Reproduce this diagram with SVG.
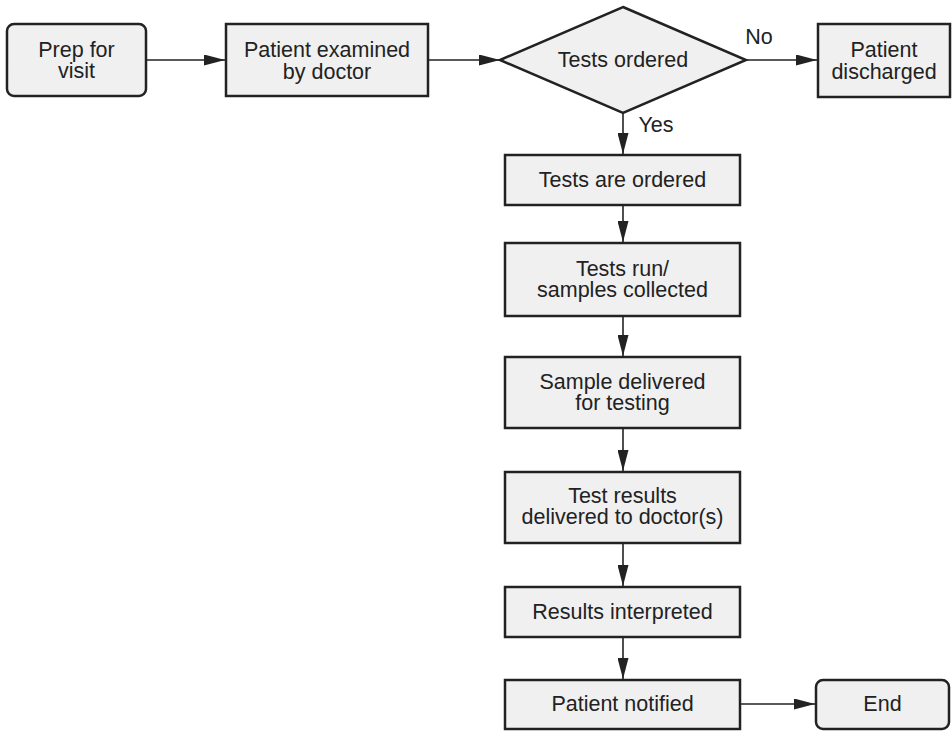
<svg xmlns="http://www.w3.org/2000/svg" width="952" height="731" viewBox="0 0 952 731">
  <style>
    .box { fill: #f0f0f0; stroke: #222; stroke-width: 2.5; }
    .lbl { font-family: "Liberation Sans", Arial, Helvetica, sans-serif; font-size: 21.5px; fill: #222; text-anchor: middle; }
    .edge { stroke: #222; stroke-width: 1.6; fill: none; }
  </style>
  <defs>
    <marker id="arrow" viewBox="0 0 21 11" refX="21" refY="5.5" markerWidth="21" markerHeight="11" markerUnits="userSpaceOnUse" orient="auto">
      <path d="M0,0 L21,5.5 L0,11 Z" fill="#222"/>
    </marker>
  </defs>
  <rect width="952" height="731" fill="#fff"/>

  <g id="connectors">
    <line class="edge" x1="146" y1="60" x2="225" y2="60" marker-end="url(#arrow)"/>
    <line class="edge" x1="428" y1="60" x2="500" y2="60" marker-end="url(#arrow)"/>
    <line class="edge" x1="746" y1="60" x2="817" y2="60" marker-end="url(#arrow)"/>
    <line class="edge" x1="623" y1="113" x2="623" y2="154" marker-end="url(#arrow)"/>
    <line class="edge" x1="623" y1="205" x2="623" y2="242" marker-end="url(#arrow)"/>
    <line class="edge" x1="623" y1="316" x2="623" y2="356" marker-end="url(#arrow)"/>
    <line class="edge" x1="623" y1="428" x2="623" y2="471" marker-end="url(#arrow)"/>
    <line class="edge" x1="623" y1="543" x2="623" y2="586" marker-end="url(#arrow)"/>
    <line class="edge" x1="623" y1="637" x2="623" y2="679" marker-end="url(#arrow)"/>
    <line class="edge" x1="740" y1="704" x2="815" y2="704" marker-end="url(#arrow)"/>
    <text class="lbl" x="759" y="44">No</text>
    <text class="lbl" x="656" y="132">Yes</text>
  </g>

  <g id="prep">
    <rect class="box" x="7" y="24" width="139" height="72" rx="7"/>
    <text class="lbl" x="76.5" y="56.5">Prep for</text>
    <text class="lbl" x="76.5" y="77.5">visit</text>
  </g>
  <g id="examined">
    <rect class="box" x="226" y="24" width="202" height="72"/>
    <text class="lbl" x="327" y="56.5">Patient examined</text>
    <text class="lbl" x="327" y="78.5">by doctor</text>
  </g>
  <g id="decision">
    <polygon class="box" points="623,7 746,60 623,113 500,60"/>
    <text class="lbl" x="623" y="67">Tests ordered</text>
  </g>
  <g id="discharged">
    <rect class="box" x="818" y="24" width="132" height="73"/>
    <text class="lbl" x="884" y="56.5">Patient</text>
    <text class="lbl" x="884" y="78.5">discharged</text>
  </g>
  <g id="ordered">
    <rect class="box" x="505" y="155" width="235" height="50"/>
    <text class="lbl" x="622.5" y="187">Tests are ordered</text>
  </g>
  <g id="collected">
    <rect class="box" x="505" y="243" width="235" height="73"/>
    <text class="lbl" x="622.5" y="276">Tests run/</text>
    <text class="lbl" x="622.5" y="297">samples collected</text>
  </g>
  <g id="delivered">
    <rect class="box" x="505" y="357" width="235" height="71"/>
    <text class="lbl" x="622.5" y="389">Sample delivered</text>
    <text class="lbl" x="622.5" y="410">for testing</text>
  </g>
  <g id="results">
    <rect class="box" x="505" y="472" width="235" height="71"/>
    <text class="lbl" x="622.5" y="503">Test results</text>
    <text class="lbl" x="622.5" y="524">delivered to doctor(s)</text>
  </g>
  <g id="interpreted">
    <rect class="box" x="505" y="587" width="235" height="50"/>
    <text class="lbl" x="622.5" y="619">Results interpreted</text>
  </g>
  <g id="notified">
    <rect class="box" x="505" y="680" width="235" height="49"/>
    <text class="lbl" x="622.5" y="711">Patient notified</text>
  </g>
  <g id="end">
    <rect class="box" x="816" y="680" width="133" height="49" rx="7"/>
    <text class="lbl" x="882.5" y="711">End</text>
  </g>
</svg>
